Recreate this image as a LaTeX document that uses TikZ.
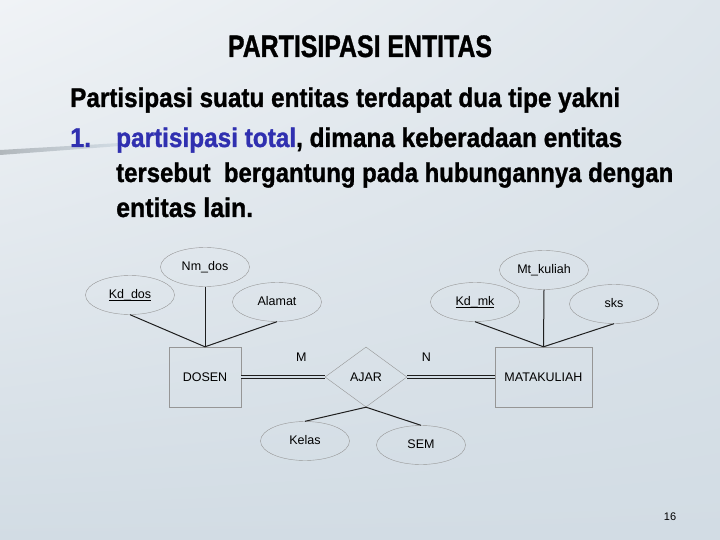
\documentclass[tikz,border=0pt]{standalone}
\usepackage{fontspec}
\usepackage{graphicx}
\setmainfont{Liberation Sans}
\newfontfamily\heavy[FakeBold=1.2]{Liberation Sans Bold}
\usetikzlibrary{shapes.geometric,shadings}

\definecolor{bg}{RGB}{210,220,228}
\definecolor{bgl}{RGB}{240,243,246}
\definecolor{blu}{RGB}{48,48,176}
\definecolor{ln}{RGB}{30,30,30}
\definecolor{bd}{RGB}{150,150,150}

\newcommand{\diag}{\fontsize{12.5}{14}\selectfont}
\newcommand{\slide}{\fontsize{27}{30}\selectfont\heavy}

\tikzset{
  attr/.style={ellipse,draw=bd,minimum width=89,minimum height=39,inner sep=0pt,text height=9pt,text depth=2pt,font=\diag},
  ent/.style={rectangle,draw=bd,minimum height=60,inner sep=0pt,font=\diag},
  rel/.style={diamond,draw=bd,minimum width=82,minimum height=60,aspect=1.37,inner sep=0pt,font=\diag},
  con/.style={draw=ln,line width=1pt},
  tot/.style={draw=ln,double=bg,double distance=2.2pt,line width=0.9pt}
}

\begin{document}
\begin{tikzpicture}[x=1pt,y=-1pt]
  \useasboundingbox (0,0) rectangle (720,540);
  \shade[upper left=bgl,upper right=bg!60!bgl,lower left=bg,lower right=bg] (0,0) rectangle (720,540);
  \shade[left color=bg!60!gray,right color=bg] (0,150) -- (120,143) -- (120,146) -- (0,155) -- cycle;

  % text
  \node[anchor=base,inner sep=0pt] (ttl) at (360,57) {\fontsize{31}{36}\selectfont\heavy\resizebox{264pt}{\height}{PARTISIPASI ENTITAS}};
  \node[anchor=base west,inner sep=0pt] (l1) at (70,107) {\slide\resizebox{550pt}{\height}{Partisipasi suatu entitas terdapat dua tipe yakni}};
  \node[anchor=base west,inner sep=0pt,text=blu] (n1) at (70,147) {\slide\resizebox{21pt}{\height}{1.}};
  \node[anchor=base west,inner sep=0pt] (l2) at (116,147) {\slide\resizebox{506pt}{\height}{{\color{blu}partisipasi total}, dimana keberadaan entitas}};
  \node[anchor=base west,inner sep=0pt] (l3) at (116,182) {\slide\resizebox{557pt}{\height}{tersebut\ \ bergantung pada hubungannya dengan}};
  \node[anchor=base west,inner sep=0pt] (l4) at (116,217) {\slide\resizebox{137pt}{\height}{entitas lain.}};

  % entities and relation
  \node[ent,minimum width=72] (dosen) at (205,377) {DOSEN};
  \node[ent,minimum width=97] (mk) at (543.5,377) {MATAKULIAH};
  \node[rel] (ajar) at (366,377) {AJAR};

  % attributes
  \node[attr] (nmdos) at (205,267) {Nm\_dos};
  \node[attr] (kddos) at (130,295) {\underline{\smash{Kd\_dos}}};
  \node[attr] (alamat) at (277,302) {Alamat};
  \node[attr] (mtkul) at (544,270) {Mt\_kuliah};
  \node[attr] (kdmk) at (475,302) {\underline{\smash{Kd\_mk}}};
  \node[attr] (sks) at (614,304) {sks};
  \node[attr] (kelas) at (305,441) {Kelas};
  \node[attr] (sem) at (421,445) {SEM};

  \draw[con] (kddos.south) -- (dosen.north);
  \draw[con] (nmdos.south) -- (dosen.north);
  \draw[con] (alamat.south) -- (dosen.north);
  \draw[con] (kdmk.south) -- (mk.north);
  \draw[con] (mtkul.south) -- (mk.north);
  \draw[con] (sks.south) -- (mk.north);
  \draw[con] (ajar.south) -- (kelas.north);
  \draw[con] (ajar.south) -- (sem.north);

  \draw[tot] (dosen.east) -- node[pos=0.72,above=12pt,font=\diag] (m) {M} (ajar.west);
  \draw[tot] (ajar.east) -- node[pos=0.22,above=12pt,font=\diag] (n) {N} (mk.west);

  \node[font=\fontsize{11}{12}\selectfont] (pg) at (670,517) {16};
\end{tikzpicture}
\end{document}
